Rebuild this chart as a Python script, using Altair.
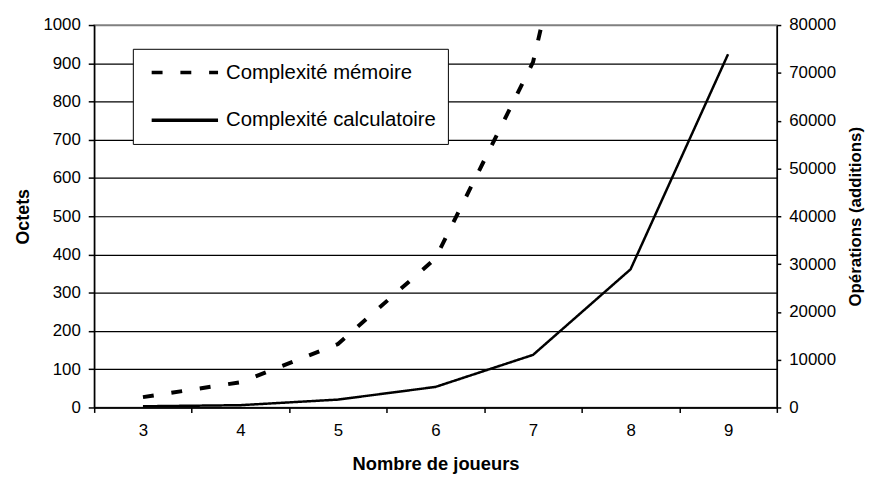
import altair as alt
import pandas as pd

# ---- data ----
joueurs = [3, 4, 5, 6, 7, 8, 9]
memoire = [27, 66, 166, 390, 903, 2000, 4600]          # Octets (left axis)
calcul = [250, 480, 1650, 4300, 11000, 28900, 73900]   # Opérations (right axis)
series_names = ["Complexité mémoire", "Complexité calculatoire"]
left_ticks = [0, 100, 200, 300, 400, 500, 600, 700, 800, 900, 1000]
right_ticks = [0, 10000, 20000, 30000, 40000, 50000, 60000, 70000, 80000]

df = pd.DataFrame({
    "joueurs": joueurs + joueurs,
    "serie": [series_names[0]] * len(joueurs) + [series_names[1]] * len(joueurs),
    "valeur": memoire + calcul,
})

FONT = "Liberation Sans"

dash_scale = alt.Scale(domain=series_names, range=[[11, 18], [1, 0]])

legend = alt.Legend(
    title=None,
    orient="none",
    legendX=39,
    legendY=24,
    symbolType="stroke",
    symbolSize=4489,
    symbolStrokeWidth=3.5,
    symbolStrokeColor="black",
    symbolOffset=5,
    clipHeight=24,
    labelFont=FONT,
    labelFontSize=20.5,
    labelColor="black",
    labelOffset=6,
    labelLimit=400,
    padding=12,
    rowPadding=24,
    strokeColor="black",
    fillColor="white",
)

x_enc = alt.X(
    "joueurs:O",
    bandPosition=0.5,
    scale=alt.Scale(type="band", paddingInner=0, paddingOuter=0),
    axis=alt.Axis(
        title="Nombre de joueurs",
        tickBand="extent",
        labelAngle=0,
        labelFontSize=17,
        labelPadding=10,
        tickSize=5,
        titleFontSize=18.5,
        titleFontWeight="bold",
        titlePadding=17,
        domainWidth=1.5,
        tickWidth=1.5,
    ),
)

base = alt.Chart(df)

mem = base.transform_filter(alt.datum.serie == series_names[0]).mark_line(
    clip=True, strokeWidth=4, color="black", strokeCap="butt"
).encode(
    x=x_enc,
    y=alt.Y(
        "valeur:Q",
        scale=alt.Scale(domain=[0, 1000], nice=False),
        axis=alt.Axis(
            title="Octets",
            values=left_ticks,
            format="d",
            grid=True,
            gridColor=alt.condition(alt.datum.value == 1000, alt.value("#808080"), alt.value("black")),
            gridWidth=1.2,
            tickSize=6,
            labelPadding=8,
            labelFontSize=17,
            titleFontSize=18,
            titleFontWeight="bold",
            titlePadding=10,
            domainWidth=1.5,
            tickWidth=1.5,
        ),
    ),
    strokeDash=alt.StrokeDash("serie:N", scale=dash_scale, legend=legend),
)

calc = base.transform_filter(alt.datum.serie == series_names[1]).mark_line(
    clip=True, strokeWidth=2.5, color="black"
).encode(
    x=x_enc,
    y=alt.Y(
        "valeur:Q",
        scale=alt.Scale(domain=[0, 80000], nice=False),
        axis=alt.Axis(
            orient="right",
            title="Opérations (additions)",
            values=right_ticks,
            format="d",
            grid=False,
            tickSize=4,
            labelPadding=8,
            labelFontSize=17,
            titleFontSize=17,
            titleFontWeight="bold",
            titleAngle=270,
            titleBaseline="top",
            titlePadding=12,
            domainWidth=1.5,
            tickWidth=1.5,
        ),
    ),
    strokeDash=alt.StrokeDash("serie:N", scale=dash_scale, legend=legend),
)

chart = (
    alt.layer(mem, calc)
    .resolve_scale(y="independent")
    .properties(
        width=689,
        height=386,
        autosize=alt.AutoSizeParams(type="none"),
        padding={"left": 87, "top": 15, "right": 90, "bottom": 70},
        background="white",
    )
    .configure_view(stroke="#808080", strokeWidth=1.5)
    .configure_axis(
        labelFont=FONT,
        titleFont=FONT,
        labelColor="black",
        titleColor="black",
        domainColor="black",
        tickColor="black",
    )
)

chart.save("out.html", embed_options={"renderer": "svg", "actions": False})
